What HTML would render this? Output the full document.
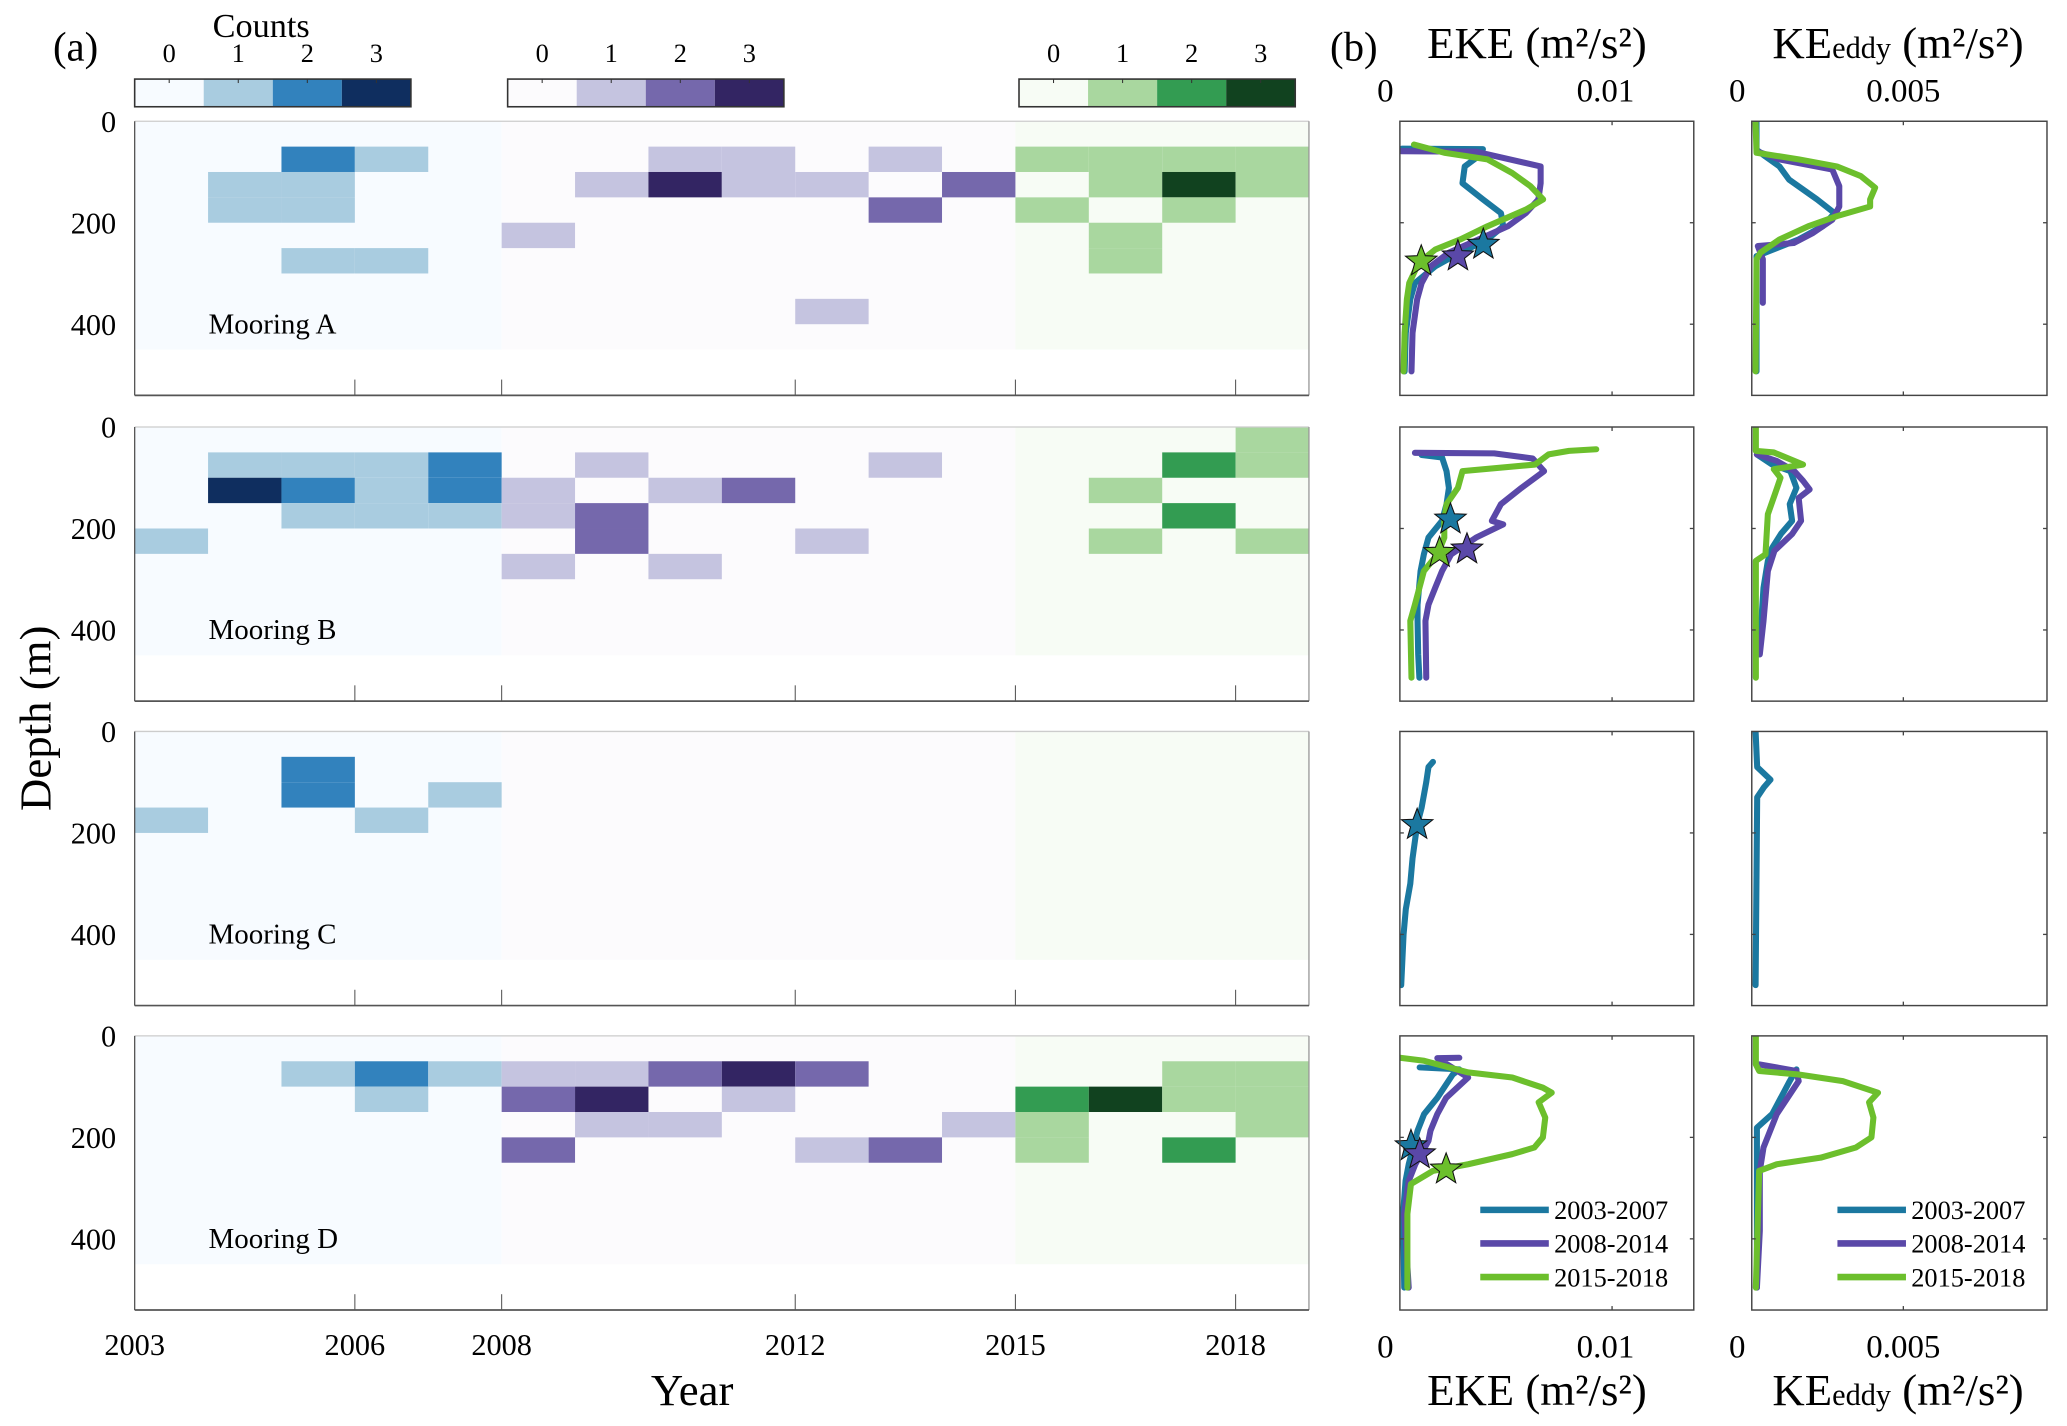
<!DOCTYPE html>
<html><head><meta charset="utf-8">
<style>
html,body{margin:0;padding:0;background:#fff;}
svg{display:block;font-family:"Liberation Serif",serif;}
</style></head>
<body>
<svg id="fig" width="2067" height="1426" viewBox="0 0 1568 1082" xmlns="http://www.w3.org/2000/svg">
<rect x="0" y="0" width="1568" height="1082" fill="#fff"/>
</svg>
<script>
// ---------- DATA ----------
const years = [2003,2004,2005,2006,2007,2008,2009,2010,2011,2012,2013,2014,2015,2016,2017,2018];
const yearTicks = [2003,2006,2008,2012,2015,2018];
const depthTicks = [0,200,400];
const countLevels = [0,1,2,3];
const moorings = ["Mooring A","Mooring B","Mooring C","Mooring D"];
const legendLabels = ["2003-2007","2008-2014","2015-2018"];
// heatmap cells: [year, depthTop(m), count]  (50 m bins)
const cellsA = [[2005,50,2],[2006,50,1],[2004,100,1],[2005,100,1],[2004,150,1],[2005,150,1],[2005,250,1],[2006,250,1],
 [2008,200,1],[2009,100,1],[2010,50,1],[2010,100,3],[2011,50,1],[2011,100,1],[2012,100,1],[2012,350,1],[2013,50,1],[2013,150,2],[2014,100,2],
 [2015,50,1],[2015,150,1],[2016,50,1],[2016,100,1],[2016,200,1],[2016,250,1],[2017,50,1],[2017,100,3],[2017,150,1],[2018,50,1],[2018,100,1]];
const cellsB = [[2004,50,1],[2005,50,1],[2006,50,1],[2007,50,2],[2004,100,3],[2005,100,2],[2006,100,1],[2007,100,2],[2005,150,1],[2006,150,1],[2007,150,1],[2003,200,1],
 [2008,100,1],[2008,150,1],[2008,250,1],[2009,50,1],[2009,150,2],[2009,200,2],[2010,100,1],[2010,250,1],[2011,100,2],[2012,200,1],[2013,50,1],
 [2016,100,1],[2016,200,1],[2017,50,2],[2017,150,2],[2018,0,1],[2018,50,1],[2018,200,1]];
const cellsC = [[2005,50,2],[2005,100,2],[2003,150,1],[2006,150,1],[2007,100,1]];
const cellsD = [[2005,50,1],[2006,50,2],[2007,50,1],[2006,100,1],
 [2008,50,1],[2009,50,1],[2010,50,2],[2011,50,3],[2012,50,2],[2008,100,2],[2009,100,3],[2011,100,1],[2009,150,1],[2010,150,1],[2014,150,1],[2008,200,2],[2012,200,1],[2013,200,2],
 [2015,100,2],[2016,100,3],[2017,50,1],[2018,50,1],[2017,100,1],[2018,100,1],[2015,150,1],[2015,200,1],[2018,150,1],[2017,200,2]];
// profiles: depth (m) and value (x1e-3 m2/s2)
const eA_blue_d=[54,55,69,89,122,154,181,207,233,266,286,319,351,417,493];
const eA_blue_v=[0.73,4.3,4.1,3.5,3.4,4.3,5.1,5.2,4.5,3.0,2.2,1.3,1.1,0.9,0.85];
const eA_purp_d=[59,60,89,122,154,181,207,233,259,286,319,351,417,493];
const eA_purp_v=[0.7,4.0,6.85,6.85,6.75,6.2,5.4,4.1,2.8,2.0,1.6,1.4,1.2,1.15];
const eA_green_d=[46,62,75,102,128,154,174,207,233,253,279,319,351,417,493];
const eA_green_v=[1.26,2.6,4.5,5.6,6.4,6.96,6.2,4.5,3.3,2.2,1.47,1.05,0.95,0.85,0.8];
const eA_star=[[4.32,243],[3.2,266],[1.58,276]];
const kA_blue_d=[0,56,69,89,115,154,181,207,233,259,266,493];
const kA_blue_v=[0.58,0.58,0.84,1.27,1.56,2.4,2.93,2.57,1.85,0.84,0.58,0.58];
const kA_purp_d=[59,75,95,128,168,194,220,240,246,272,358];
const kA_purp_v=[0.58,1.27,2.86,3.07,3.07,2.86,2.28,1.7,0.62,0.77,0.77];
const kA_green_d=[3,62,75,89,108,131,154,168,187,207,233,259,272,493];
const kA_green_v=[0.55,0.58,1.85,3.0,3.72,4.15,4.0,4.0,3.0,2.14,1.27,0.7,0.58,0.55];
const eB_blue_d=[55,60,87,120,152,185,218,251,284,350,382,448,494];
const eB_blue_v=[1.6,2.5,2.7,2.8,2.7,2.5,1.9,1.7,1.55,1.42,1.42,1.45,1.5];
const eB_purp_d=[51,52,62,87,120,152,185,192,218,251,284,317,350,382,494];
const eB_purp_v=[1.3,4.8,6.5,7.0,6.0,5.1,4.7,5.2,4.0,2.9,2.5,2.2,1.9,1.77,1.8];
const eB_green_d=[44,47,54,74,87,120,152,185,218,251,284,350,382,494];
const eB_green_v=[9.3,8.1,7.2,6.6,3.4,3.2,2.7,2.6,2.6,2.3,1.7,1.3,1.1,1.15];
const eB_star=[[2.87,182],[3.6,241],[2.39,248]];
const kB_blue_d=[54,74,87,120,152,185,210,238,264,317,448];
const kB_blue_v=[0.59,1.05,1.6,1.78,1.58,1.65,1.32,1.05,0.92,0.79,0.66];
const kB_purp_d=[54,67,87,106,123,140,185,211,244,284,382,448];
const kB_purp_v=[0.59,1.19,1.72,1.98,2.18,1.85,1.92,1.65,1.12,0.92,0.79,0.68];
const kB_green_d=[0,47,50,74,83,100,120,172,251,264,494];
const kB_green_v=[0.56,0.56,1.1,1.98,1.1,1.3,1.2,0.92,0.85,0.56,0.56];
const eC_blue_d=[60,70,100,150,184,250,300,350,400,500];
const eC_blue_v=[2.1,1.9,1.8,1.6,1.4,1.2,1.1,0.9,0.8,0.7];
const eC_star=[[1.4,184]];
const kC_blue_d=[0,70,95,110,130,500];
const kC_blue_v=[0.55,0.6,1.0,0.8,0.6,0.55];
const eD_blue_d=[62,66,76,122,154,187,220,253,286,351,496];
const eD_blue_v=[1.51,3.26,2.97,2.29,1.71,1.42,1.22,1.03,0.89,0.78,0.83];
const eD_purp_d=[43,44,82,122,154,187,207,253,286,351,496];
const eD_purp_v=[3.26,2.29,3.65,2.68,2.29,1.99,1.9,1.32,1.03,0.83,1.03];
const eD_green_d=[43,49,72,82,102,112,131,161,200,220,233,253,266,292,351,496];
const eD_green_v=[0.64,1.71,3.65,5.6,6.95,7.34,6.76,7.05,6.95,6.57,5.6,3.65,2.1,1.13,0.97,0.97];
const eD_star=[[1.13,217],[1.51,233],[2.68,263]];
const kD_blue_d=[66,89,154,181,496];
const kD_blue_v=[1.78,1.58,1.05,0.59,0.59];
const kD_purp_d=[56,69,89,154,220,266,384,496];
const kD_purp_v=[0.66,1.78,1.85,1.19,0.79,0.68,0.68,0.59];
const kD_green_d=[0,56,69,76,89,112,131,161,200,220,240,253,266,496];
const kD_green_v=[0.56,0.56,0.66,1.85,3.18,4.24,3.97,4.1,4.04,3.57,2.51,1.19,0.66,0.56];

// ---------- RENDERING ----------
const NS="http://www.w3.org/2000/svg";
const svg=document.getElementById('fig');
function mk(tag,attrs,parent,text){const e=document.createElementNS(NS,tag);for(const k in attrs)e.setAttribute(k,attrs[k]);if(text!==undefined)e.textContent=text;(parent||svg).appendChild(e);return e;}
const palBlue=["#f7fbff","#a9cce0","#3282bd","#0f2e5f"];
const palPurp=["#fcfbfd","#c5c4e0","#7568ac","#332563"];
const palGreen=["#f7fcf5","#a9d79f","#339c52","#11421f"];
const lineCols=["#1b78a0","#5a48a8","#6cbf2c"];
const rowTops=[92,324,555,786];
const X0=102, YW=55.69;
const xYear=y=>X0+(y-2003)*YW;
const yDep=(d,r)=>rowTops[r]+d*0.385;
const xE=v=>1051+v*17.2;
const xK=v=>1318+v*25.2;
function pal(y){return y<2008?palBlue:(y<2015?palPurp:palGreen);}

let t;
t=mk('text',{x:40,y:46,'font-size':31},svg,'(a)');
t=mk('text',{x:198,y:28,'font-size':26,'text-anchor':'middle'},svg,'Counts');
t=mk('text',{x:1009,y:46,'font-size':31},svg,'(b)');

[[102,palBlue,'colorbar-blue'],[385,palPurp,'colorbar-purple'],[773,palGreen,'colorbar-green']].forEach(([x,p,nm])=>{
  const g=mk('g',{});
  const w=52.4;
  countLevels.forEach((c,i)=>{
    const r=mk('rect',{x:x+i*w,y:60,width:w,height:21,fill:p[c]},g);
    
    const tl=mk('text',{x:x+i*w+w/2,y:47,'font-size':20,'text-anchor':'middle'},g,String(c));
    
    mk('line',{x1:x+i*w+w/2,y1:60,x2:x+i*w+w/2,y2:63,stroke:'#333','stroke-width':0.8},g);
  });
  mk('rect',{x:x,y:60,width:4*w,height:21,fill:'none',stroke:'#333','stroke-width':1.2},g);
});

const allCells=[cellsA,cellsB,cellsC,cellsD];
const eke=[
 [[eA_blue_d,eA_blue_v],[eA_purp_d,eA_purp_v],[eA_green_d,eA_green_v]],
 [[eB_blue_d,eB_blue_v],[eB_purp_d,eB_purp_v],[eB_green_d,eB_green_v]],
 [[eC_blue_d,eC_blue_v]],
 [[eD_blue_d,eD_blue_v],[eD_purp_d,eD_purp_v],[eD_green_d,eD_green_v]]];
const ke=[
 [[kA_blue_d,kA_blue_v],[kA_purp_d,kA_purp_v],[kA_green_d,kA_green_v]],
 [[kB_blue_d,kB_blue_v],[kB_purp_d,kB_purp_v],[kB_green_d,kB_green_v]],
 [[kC_blue_d,kC_blue_v]],
 [[kD_blue_d,kD_blue_v],[kD_purp_d,kD_purp_v],[kD_green_d,kD_green_v]]];
const stars=[eA_star,eB_star,eC_star,eD_star];

function starPts(cx,cy,R){const r=R*0.42;let p=[];for(let i=0;i<10;i++){const a=-Math.PI/2+i*Math.PI/5;const rr=i%2?r:R;p.push((cx+rr*Math.cos(a)).toFixed(1)+','+(cy+rr*Math.sin(a)).toFixed(1));}return p.join(' ');}

for(let r=0;r<4;r++){
  const top=rowTops[r], bot=top+208;
  const g=mk('g',{});
  [[2003,2008],[2008,2015],[2015,2019]].forEach(([a,b])=>{
    const bg=mk('rect',{x:xYear(a),y:yDep(0,r),width:xYear(b)-xYear(a),height:yDep(450,r)-yDep(0,r),fill:pal(a)[0]},g);
    
  });
  allCells[r].forEach(c=>{
    const rc=mk('rect',{x:xYear(c[0]),y:yDep(c[1],r),width:YW,height:yDep(c[1]+50,r)-yDep(c[1],r),fill:pal(c[0])[c[2]]},g);
    
  });
  mk('line',{x1:X0,y1:top,x2:993,y2:top,stroke:'#ccc','stroke-width':1},g);
  mk('line',{x1:993,y1:top,x2:993,y2:bot,stroke:'#999','stroke-width':1},g);
  mk('line',{x1:X0,y1:top,x2:X0,y2:bot,stroke:'#555','stroke-width':1},g);
  mk('line',{x1:X0,y1:bot,x2:993,y2:bot,stroke:'#555','stroke-width':1.3},g);
  yearTicks.forEach(y=>{if(y>2003)mk('line',{x1:xYear(y),y1:bot,x2:xYear(y),y2:bot-12,stroke:'#555','stroke-width':0.8},g);});
  depthTicks.forEach(d=>{
    const tl=mk('text',{x:88,y:yDep(d,r)+8,'font-size':23,'text-anchor':'end'},g,String(d));
    
  });
  const ml=mk('text',{x:158,y:top+161,'font-size':22},g,moorings[r]);
  

  [[1062,1285,xE,eke[r],'eke'],[1329,1553,xK,ke[r],'ke-eddy']].forEach(([x1,x2,fx,series,nm],pi)=>{
    const pg=mk('g',{});
    const cp='clip'+r+pi;
    const cpe=mk('clipPath',{id:cp},pg);mk('rect',{x:x1,y:top,width:x2-x1,height:208},cpe);
    series.forEach((s,si)=>{
      const pts=s[0].map((d,i)=>fx(s[1][i]).toFixed(1)+','+yDep(d,r).toFixed(1)).join(' ');
      const pl=mk('polyline',{points:pts,fill:'none',stroke:lineCols[si],'stroke-width':4.6,'stroke-linejoin':'round','stroke-linecap':'round','clip-path':'url(#'+cp+')'},pg);
      
    });
    if(pi===0){stars[r].forEach((s,si)=>{
      const st=mk('polygon',{points:starPts(xE(s[0]),yDep(s[1],r),12.5),fill:lineCols[si],stroke:'#111','stroke-width':0.8},pg);
      
    });}
    mk('rect',{x:x1,y:top,width:x2-x1,height:208,fill:'none',stroke:'#444','stroke-width':1.1},pg);
    [200,400].forEach(d=>{const yy=yDep(d,r);mk('line',{x1:x1,y1:yy,x2:x1+3,y2:yy,stroke:'#444'},pg);mk('line',{x1:x2,y1:yy,x2:x2-3,y2:yy,stroke:'#444'},pg);});
    const tx=pi===0?xE(10):xK(5);
    mk('line',{x1:tx,y1:top,x2:tx,y2:top+3,stroke:'#444'},pg);mk('line',{x1:tx,y1:bot,x2:tx,y2:bot-3,stroke:'#444'},pg);
    if(r===3){
      const lx=pi===0?1123:1394;
      legendLabels.forEach((lab,li)=>{
        const ly=918+li*25.5;
        const ll=mk('line',{x1:lx,y1:ly,x2:lx+52,y2:ly,stroke:lineCols[li],'stroke-width':5},pg);
        
        const lt=mk('text',{x:lx+56,y:ly+7,'font-size':20},pg,lab);
        
      });
    }
  });
}
yearTicks.forEach(y=>{const tl=mk('text',{x:xYear(y),y:1028,'font-size':23,'text-anchor':'middle'},svg,String(y));});
t=mk('text',{x:525,y:1066,'font-size':34,'text-anchor':'middle'},svg,'Year');
t=mk('text',{x:0,y:0,'font-size':34,'text-anchor':'middle',transform:'translate(38,545) rotate(-90)'},svg,'Depth (m)');
[[77,44],[1030,1066]].forEach(([ly,ty],k)=>{
  [[xE(0),'0'],[xE(10),'0.01'],[xK(0),'0'],[xK(5),'0.005']].forEach(([x,s])=>{
    const tl=mk('text',{x:x-(s==='0.01'?5:0),y:ly,'font-size':25,'text-anchor':'middle'},svg,s);
    
  });
  const e=mk('text',{x:1166,y:ty,'font-size':34,'text-anchor':'middle'},svg,'EKE (m²/s²)');
  
  const kt=mk('text',{x:1440,y:ty,'font-size':34,'text-anchor':'middle'},svg);
  
  mk('tspan',{},kt,'KE');mk('tspan',{'font-size':23},kt,'eddy');mk('tspan',{},kt,' (m²/s²)');
});
</script>
</body></html>
